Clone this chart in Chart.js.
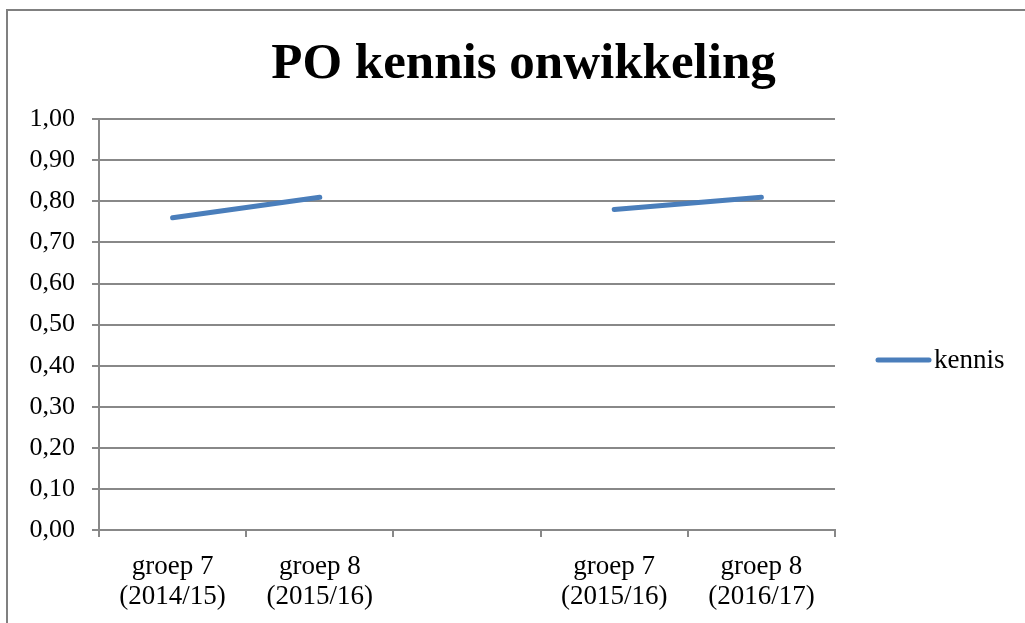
<!DOCTYPE html>
<html>
<head>
<meta charset="utf-8">
<script src="https://cdn.jsdelivr.net/npm/chart.js@4/dist/chart.umd.min.js"></script>
<style>
  html, body { margin: 0; padding: 0; background: #fff; }
  body { width: 1025px; height: 623px; position: relative; overflow: hidden; }
  #frame { position: absolute; left: 6px; top: 9px; width: 1100px; height: 700px; border-left: 2px solid #808080; border-top: 2px solid #808080; }
  #wrap { position: absolute; left: 0; top: 0; width: 1025px; height: 623px; }
</style>
</head>
<body>
<div id="frame"></div>
<div id="wrap"><canvas id="kennisChart" width="1025" height="623"></canvas></div>
<script>
const categories = [
    ['groep 7', '(2014/15)'],
    ['groep 8', '(2015/16)'],
    '',
    ['groep 7', '(2015/16)'],
    ['groep 8', '(2016/17)']
];
const kennis = [0.76, 0.81, null, 0.78, 0.81];
const seriesName = 'kennis';
const lineColor = '#4A7EBB';
const serif = '"Liberation Serif", "Times New Roman", serif';

// legend drawn by hand so it sits where the original has it
const sideLegend = {
    id: 'sideLegend',
    afterDraw(chart) {
        const ctx = chart.ctx;
        const ds = chart.data.datasets[0];
        const y = 360;
        ctx.save();
        ctx.strokeStyle = ds.borderColor;
        ctx.lineWidth = 5;
        ctx.lineCap = 'round';
        ctx.beginPath();
        ctx.moveTo(878, y);
        ctx.lineTo(929, y);
        ctx.stroke();
        ctx.fillStyle = '#000';
        ctx.font = '27px ' + serif;
        ctx.textBaseline = 'middle';
        ctx.fillText(ds.label, 934, y + 1);
        ctx.restore();
    }
};

const ctx = document.getElementById('kennisChart').getContext('2d');
new Chart(ctx, {
    type: 'line',
    data: {
        labels: categories,
        datasets: [{
            label: seriesName,
            data: kennis,
            borderColor: lineColor,
            backgroundColor: lineColor,
            borderWidth: 5,
            borderCapStyle: 'round',
            pointRadius: 0,
            tension: 0,
            spanGaps: false
        }]
    },
    options: {
        responsive: false,
        animation: false,
        layout: {
            padding: {left: 22, right: 0, top: 0, bottom: 0}
        },
        plugins: {
            legend: {display: false},
            tooltip: {enabled: false},
            title: {
                display: true,
                text: 'PO kennis onwikkeling',
                color: '#000',
                font: {family: serif, size: 51, weight: 'bold'},
                padding: {top: 34, bottom: 24}
            }
        },
        scales: {
            y: {
                min: 0,
                max: 1,
                afterFit(scale) { scale.width = 77; },
                ticks: {
                    stepSize: 0.1,
                    color: '#000',
                    padding: 17,
                    font: {family: serif, size: 26},
                    callback: v => v.toFixed(2).replace('.', ',')
                },
                grid: {color: '#888', lineWidth: 2, tickLength: 7},
                border: {color: '#888', width: 2}
            },
            // empty right-hand axis that keeps room for the legend
            side: {
                type: 'linear',
                position: 'right',
                min: 0,
                max: 1,
                afterFit(scale) { scale.width = 190; },
                ticks: {display: false},
                grid: {display: false},
                border: {display: false}
            },
            x: {
                offset: true,
                afterFit(scale) { scale.height = 93; },
                ticks: {
                    color: '#000',
                    padding: 15,
                    maxRotation: 0,
                    autoSkip: false,
                    font: {family: serif, size: 27, lineHeight: 1.1}
                },
                grid: {offset: true, drawOnChartArea: false, color: '#888', lineWidth: 2, tickLength: 7},
                border: {color: '#888', width: 2}
            }
        }
    },
    plugins: [sideLegend]
});
</script>
</body>
</html>
